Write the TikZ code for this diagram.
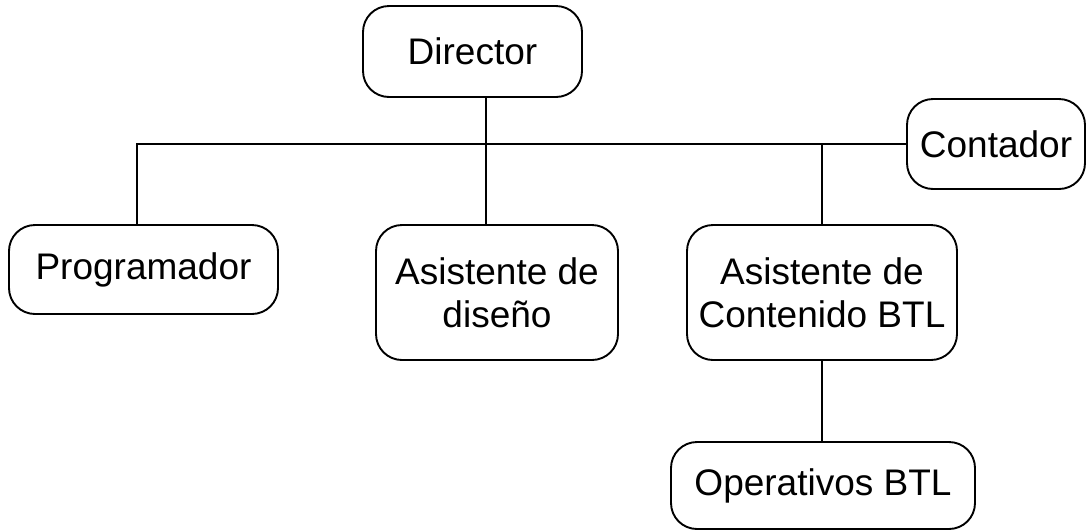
\documentclass[tikz,border=0pt]{standalone}
\usepackage{fontspec}
\setmainfont{Liberation Sans}
\begin{document}
\begin{tikzpicture}[x=1pt,y=-1pt,
  box/.style={draw, line width=1.9pt, rounded corners=26pt, align=center, inner sep=0pt,
    font=\fontsize{37}{43}\selectfont},
  conn/.style={line width=1.9pt}]
\useasboundingbox (0,0) rectangle (1087,531);
\node[box, minimum width=219pt, minimum height=91pt] (dir) at (472.5,51.5) {Director};
\node[box, minimum width=178pt, minimum height=90pt] (cont) at (996,144) {Contador};
\node[box, minimum width=269pt, minimum height=89pt] (prog) at (143.5,269.5) {Programador};
\node[box, minimum width=242pt, minimum height=135pt] (dis) at (497,292.5) {Asistente de\\diseño};
\node[box, minimum width=270pt, minimum height=135pt] (acb) at (822,292.5) {Asistente de\\Contenido BTL};
\node[box, minimum width=304pt, minimum height=87pt] (ope) at (823,485.5) {Operativos BTL};
\coordinate (bl) at (137,144);
\coordinate (bm) at (486,144);
\coordinate (br) at (822,144);
\draw[conn] (prog.north -| bl) |- (cont.west);
\draw[conn] (dir.south -| bm) -- (bm);
\draw[conn] (bm) -- (dis.north -| bm);
\draw[conn] (br) -- (acb.north -| br);
\draw[conn] (acb.south -| br) -- (ope.north -| br);
\end{tikzpicture}
\end{document}
